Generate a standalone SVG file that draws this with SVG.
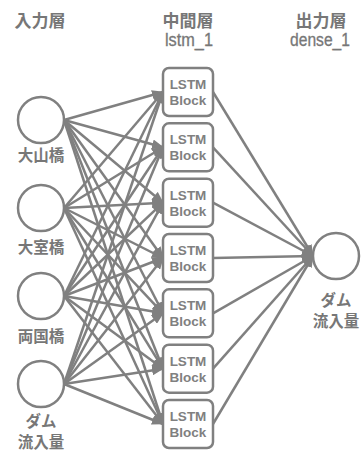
<svg xmlns="http://www.w3.org/2000/svg" width="361" height="453" viewBox="0 0 361 453">
<defs>
<marker id="ah" markerUnits="userSpaceOnUse" markerWidth="12" markerHeight="10" refX="11" refY="5" orient="auto">
<path d="M0,0 L12,5 L0,10 z" fill="#808080"/>
</marker>
<style>
.c{fill:#fff;stroke:#808080;stroke-width:2.5}
.b{fill:#fff;stroke:#808080;stroke-width:2.5}
.e line{stroke:#808080;stroke-width:2.5;marker-end:url(#ah)}
.jp{font-family:"Noto Sans CJK JP",sans-serif;font-weight:bold;font-size:15.5px;fill:#777;text-anchor:middle}
.hd{font-family:"Noto Sans CJK JP",sans-serif;font-weight:bold;font-size:17px;fill:#777;text-anchor:middle}
.lat{font-family:"Liberation Sans",sans-serif;font-size:18px;fill:#777;stroke:#777;stroke-width:0.3;text-anchor:middle}
.bt{font-family:"Liberation Sans",sans-serif;font-weight:bold;font-size:13.5px;fill:#808080;text-anchor:middle}
</style>
</defs>
<rect width="361" height="453" fill="#fff"/>
<g id="headers">
<text class="hd" x="40" y="27">入力層</text>
<text class="hd" x="188" y="27">中間層</text>
<text class="lat" x="189" y="46" textLength="48" lengthAdjust="spacingAndGlyphs">lstm_1</text>
<text class="hd" x="321" y="27">出力層</text>
<text class="lat" x="320" y="46" textLength="60" lengthAdjust="spacingAndGlyphs">dense_1</text>
</g>
<g id="connectors" class="e">
<line x1="64" y1="120" x2="163" y2="92"/>
<line x1="64" y1="120" x2="163" y2="147.3"/>
<line x1="64" y1="120" x2="163" y2="202.7"/>
<line x1="64" y1="120" x2="163" y2="258"/>
<line x1="64" y1="120" x2="163" y2="313.3"/>
<line x1="64" y1="120" x2="163" y2="368.7"/>
<line x1="64" y1="120" x2="163" y2="424"/>
<line x1="64" y1="208" x2="163" y2="92"/>
<line x1="64" y1="208" x2="163" y2="147.3"/>
<line x1="64" y1="208" x2="163" y2="202.7"/>
<line x1="64" y1="208" x2="163" y2="258"/>
<line x1="64" y1="208" x2="163" y2="313.3"/>
<line x1="64" y1="208" x2="163" y2="368.7"/>
<line x1="64" y1="208" x2="163" y2="424"/>
<line x1="64" y1="296" x2="163" y2="92"/>
<line x1="64" y1="296" x2="163" y2="147.3"/>
<line x1="64" y1="296" x2="163" y2="202.7"/>
<line x1="64" y1="296" x2="163" y2="258"/>
<line x1="64" y1="296" x2="163" y2="313.3"/>
<line x1="64" y1="296" x2="163" y2="368.7"/>
<line x1="64" y1="296" x2="163" y2="424"/>
<line x1="64" y1="384" x2="163" y2="92"/>
<line x1="64" y1="384" x2="163" y2="147.3"/>
<line x1="64" y1="384" x2="163" y2="202.7"/>
<line x1="64" y1="384" x2="163" y2="258"/>
<line x1="64" y1="384" x2="163" y2="313.3"/>
<line x1="64" y1="384" x2="163" y2="368.7"/>
<line x1="64" y1="384" x2="163" y2="424"/>
<line x1="213" y1="92" x2="313" y2="256"/>
<line x1="213" y1="147.3" x2="313" y2="256"/>
<line x1="213" y1="202.7" x2="313" y2="256"/>
<line x1="213" y1="258" x2="313" y2="256"/>
<line x1="213" y1="313.3" x2="313" y2="256"/>
<line x1="213" y1="368.7" x2="313" y2="256"/>
<line x1="213" y1="424" x2="313" y2="256"/>
</g>
<g id="in1"><circle class="c" cx="41" cy="120" r="23"/><text class="jp" x="41" y="161">大山橋</text></g>
<g id="in2"><circle class="c" cx="41" cy="208" r="23"/><text class="jp" x="41" y="253">大室橋</text></g>
<g id="in3"><circle class="c" cx="41" cy="296" r="23"/><text class="jp" x="41" y="342">両国橋</text></g>
<g id="in4"><circle class="c" cx="41" cy="384" r="23"/><text class="jp" x="41" y="427">ダム</text><text class="jp" x="41" y="448">流入量</text></g>
<g id="lstm1"><rect class="b" x="163" y="68" width="50" height="48" rx="6"/><text class="bt" x="188" y="89">LSTM</text><text class="bt" x="188" y="105">Block</text></g>
<g id="lstm2"><rect class="b" x="163" y="123.3" width="50" height="48" rx="6"/><text class="bt" x="188" y="144.3">LSTM</text><text class="bt" x="188" y="160.3">Block</text></g>
<g id="lstm3"><rect class="b" x="163" y="178.7" width="50" height="48" rx="6"/><text class="bt" x="188" y="199.7">LSTM</text><text class="bt" x="188" y="215.7">Block</text></g>
<g id="lstm4"><rect class="b" x="163" y="234" width="50" height="48" rx="6"/><text class="bt" x="188" y="255">LSTM</text><text class="bt" x="188" y="271">Block</text></g>
<g id="lstm5"><rect class="b" x="163" y="289.3" width="50" height="48" rx="6"/><text class="bt" x="188" y="310.3">LSTM</text><text class="bt" x="188" y="326.3">Block</text></g>
<g id="lstm6"><rect class="b" x="163" y="344.7" width="50" height="48" rx="6"/><text class="bt" x="188" y="365.7">LSTM</text><text class="bt" x="188" y="381.7">Block</text></g>
<g id="lstm7"><rect class="b" x="163" y="400" width="50" height="48" rx="6"/><text class="bt" x="188" y="421">LSTM</text><text class="bt" x="188" y="437">Block</text></g>
<g id="out"><circle class="c" cx="336" cy="256" r="23"/><text class="jp" x="336" y="306">ダム</text><text class="jp" x="336" y="327">流入量</text></g>
</svg>
